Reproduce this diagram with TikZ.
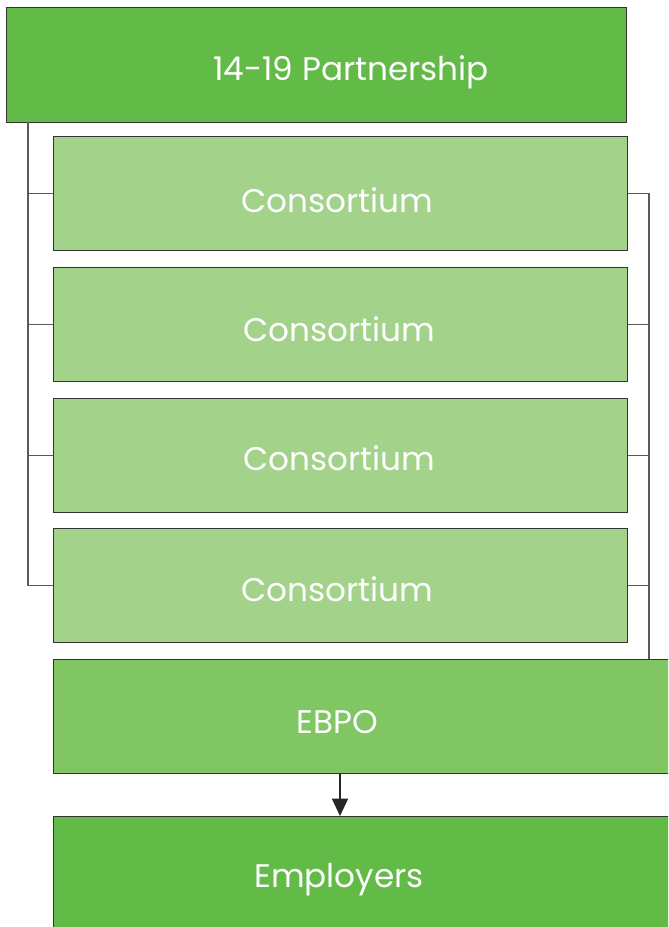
\documentclass[tikz,border=0pt]{standalone}
\usepackage{fontspec}
\setmainfont{Poppins}
\usetikzlibrary{arrows.meta}
\definecolor{gdark}{HTML}{62BB46}
\definecolor{glight}{HTML}{A3D28A}
\definecolor{gmid}{HTML}{80C764}
\begin{document}
\begin{tikzpicture}[x=0.75pt,y=-0.75pt,
 box/.style={draw=black!80, line width=1.1pt, rectangle, anchor=north west, inner sep=0pt},
 cons/.style={box, fill=glight, minimum width=574*0.75pt, minimum height=114*0.75pt},
 lbl/.style={text=white, font=\fontsize{24.5}{28}\selectfont},
 conn/.style={draw=black!65, line width=1.1pt}]
\useasboundingbox (0,0) rectangle (668,927);
\clip (0,0) rectangle (668,927);
\node[box, fill=gdark, minimum width=620*0.75pt, minimum height=115*0.75pt] (p) at (6,7) {};
\node[lbl] (pl) at (351,72) {14-19 Partnership};
\node[cons] (c1) at (53,136) {};
\node[cons] (c2) at (53,267) {};
\node[cons] (c3) at (53,398) {};
\node[cons] (c4) at (53,528) {};
\node[lbl] (c1l) at (337,200) {Consortium};
\node[lbl] (c2l) at (339,329) {Consortium};
\node[lbl] (c3l) at (339,458) {Consortium};
\node[lbl] (c4l) at (337,589) {Consortium};
\node[box, fill=gmid, minimum width=640*0.75pt, minimum height=114*0.75pt] (e) at (53,659) {};
\node[lbl] (el) at (337,722) {EBPO};
\node[box, fill=gdark, minimum width=640*0.75pt, minimum height=140*0.75pt] (m) at (53,816) {};
\node[lbl] (ml) at (339,880) {Employers};
\coordinate (l0) at (28,122);
\draw[conn] (l0) |- (c4.west);
\foreach \c in {c1,c2,c3} \draw[conn] (l0 |- \c.west) -- (\c.west);
\coordinate (rb) at (649,659);
\draw[conn] (c1.east) -| (rb);
\foreach \c in {c2,c3,c4} \draw[conn] (\c.east) -- (\c.east -| rb);
\coordinate (as) at (340,773);
\draw[line width=1.1pt, black!85, -{Triangle[width=12pt,length=13pt]}] (as) -- (as |- m.north);
\end{tikzpicture}
\end{document}
